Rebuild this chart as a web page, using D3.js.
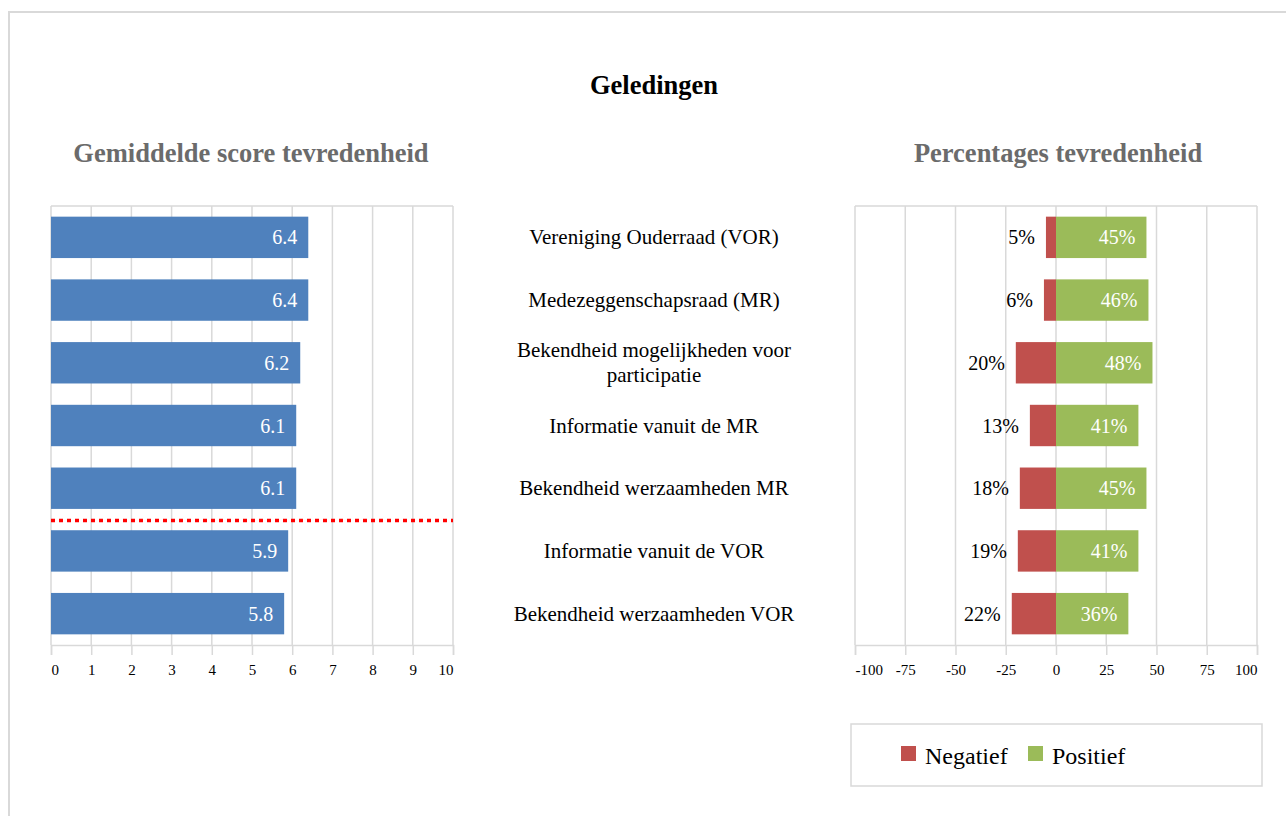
<!DOCTYPE html>
<html>
<head>
<meta charset="utf-8">
<script src="https://cdn.jsdelivr.net/npm/d3@7"></script>
<style>
  body { margin: 0; background: #fff; }
  svg { display: block; }
  text { font-family: "Liberation Serif", "Times New Roman", serif; }
</style>
</head>
<body>
<svg id="chart" width="1286" height="816"></svg>
<script>
// Categories (top to bottom)
const categories = [
  "Vereniging Ouderraad (VOR)",
  "Medezeggenschapsraad (MR)",
  "Bekendheid mogelijkheden voor|participatie",
  "Informatie vanuit de MR",
  "Bekendheid werzaamheden MR",
  "Informatie vanuit de VOR",
  "Bekendheid werzaamheden VOR"
];
// Average satisfaction score (0-10)
const scores = [6.4, 6.4, 6.2, 6.1, 6.1, 5.9, 5.8];
// Percentage dissatisfied / satisfied
const negatief = [5, 6, 20, 13, 18, 19, 22];
const positief = [45, 46, 48, 41, 45, 41, 36];
// Reference threshold drawn between rows 5 and 6
const thresholdAfter = 5;

const scoreTicks = [0, 1, 2, 3, 4, 5, 6, 7, 8, 9, 10];
const pctTicks = [-100, -75, -50, -25, 0, 25, 50, 75, 100];

const BLUE = "#4f81bd", RED = "#c0504d", GREEN = "#9bbb59", GRID = "#d9d9d9";

const svg = d3.select("#chart");

// outer frame
svg.append("rect").attr("x", 9).attr("y", 12).attr("width", 1290).attr("height", 820)
  .attr("fill", "none").attr("stroke", GRID).attr("stroke-width", 2);

// titles
svg.append("text").attr("x", 654).attr("y", 94).attr("text-anchor", "middle")
  .attr("font-size", 26.5).attr("font-weight", "bold").attr("fill", "#000").text("Geledingen");
svg.append("text").attr("x", 251).attr("y", 162).attr("text-anchor", "middle")
  .attr("font-size", 26.5).attr("font-weight", "bold").attr("fill", "#6b6b6b").text("Gemiddelde score tevredenheid");
svg.append("text").attr("x", 1058).attr("y", 162).attr("text-anchor", "middle")
  .attr("font-size", 26.5).attr("font-weight", "bold").attr("fill", "#6b6b6b").text("Percentages tevredenheid");

const plotTop = 206, plotBottom = 645;
const y = d3.scaleBand().domain(d3.range(categories.length))
  .range([plotTop, plotBottom]).paddingInner(0.34).paddingOuter(0.17);

// axis styling; the outermost tick labels are kept inside the plot width
function styleAxis(ax, ticks) {
  ax.select(".domain").attr("stroke", GRID).attr("stroke-width", 1.5);
  ax.selectAll(".tick line").attr("stroke", GRID).attr("stroke-width", 1.5);
  ax.selectAll(".tick text").attr("font-size", 15).attr("fill", "#000")
    .attr("text-anchor", d => d === ticks[0] ? "start" : d === ticks[ticks.length - 1] ? "end" : "middle");
}

// ---------- left: mean score ----------
const xL = d3.scaleLinear().domain([0, 10]).range([51, 453]);
const gL = svg.append("g");
gL.append("line").attr("x1", xL(0)).attr("x2", xL(10)).attr("y1", plotTop).attr("y2", plotTop)
  .attr("stroke", GRID).attr("stroke-width", 1.5);
gL.selectAll(".grid").data(scoreTicks).join("line")
  .attr("x1", d => xL(d)).attr("x2", d => xL(d)).attr("y1", plotTop).attr("y2", plotBottom)
  .attr("stroke", GRID).attr("stroke-width", 1.5);
const axL = gL.append("g").attr("transform", `translate(0,${plotBottom})`)
  .call(d3.axisBottom(xL).tickValues(scoreTicks).tickSize(10).tickPadding(9).tickFormat(d => String(d)));
styleAxis(axL, scoreTicks);

gL.selectAll(".bar").data(scores).join("rect")
  .attr("x", xL(0)).attr("y", (d, i) => y(i))
  .attr("width", d => xL(d) - xL(0)).attr("height", y.bandwidth()).attr("fill", BLUE);
gL.selectAll(".lbl").data(scores).join("text")
  .attr("x", d => xL(d) - 11).attr("y", (d, i) => y(i) + y.bandwidth() / 2 + 7)
  .attr("text-anchor", "end").attr("font-size", 20).attr("fill", "#fff")
  .text(d => d3.format(".1f")(d));

// threshold line
const yT = (y(thresholdAfter - 1) + y.bandwidth() + y(thresholdAfter)) / 2 + 1;
gL.append("line").attr("x1", xL(0)).attr("x2", xL(10)).attr("y1", yT).attr("y2", yT)
  .attr("stroke", "#ff0000").attr("stroke-width", 3.5).attr("stroke-dasharray", "4,4");

// ---------- middle: category labels ----------
const gM = svg.append("g");
categories.forEach((c, i) => {
  const lines = c.split("|");
  const cy = y(i) + y.bandwidth() / 2;
  const t = gM.append("text").attr("text-anchor", "middle").attr("font-size", 21).attr("fill", "#000");
  lines.forEach((ln, k) => {
    t.append("tspan").attr("x", 654)
      .attr("y", cy + 7 + (k - (lines.length - 1) / 2) * 25).text(ln);
  });
});

// ---------- right: percentages ----------
const xR = d3.scaleLinear().domain([-100, 100]).range([855, 1257]);
const gR = svg.append("g");
gR.append("line").attr("x1", xR(-100)).attr("x2", xR(100)).attr("y1", plotTop).attr("y2", plotTop)
  .attr("stroke", GRID).attr("stroke-width", 1.5);
gR.selectAll(".grid").data(pctTicks).join("line")
  .attr("x1", d => xR(d)).attr("x2", d => xR(d)).attr("y1", plotTop).attr("y2", plotBottom)
  .attr("stroke", GRID).attr("stroke-width", 1.5);
const axR = gR.append("g").attr("transform", `translate(0,${plotBottom})`)
  .call(d3.axisBottom(xR).tickValues(pctTicks).tickSize(10).tickPadding(9).tickFormat(d => String(d)));
styleAxis(axR, pctTicks);

gR.selectAll(".neg").data(negatief).join("rect")
  .attr("x", d => xR(-d)).attr("y", (d, i) => y(i))
  .attr("width", d => xR(0) - xR(-d)).attr("height", y.bandwidth()).attr("fill", RED);
gR.selectAll(".pos").data(positief).join("rect")
  .attr("x", xR(0)).attr("y", (d, i) => y(i))
  .attr("width", d => xR(d) - xR(0)).attr("height", y.bandwidth()).attr("fill", GREEN);
gR.selectAll(".negLbl").data(negatief).join("text")
  .attr("x", d => xR(-d) - 11).attr("y", (d, i) => y(i) + y.bandwidth() / 2 + 7)
  .attr("text-anchor", "end").attr("font-size", 20).attr("fill", "#000")
  .text(d => d + "%");
gR.selectAll(".posLbl").data(positief).join("text")
  .attr("x", d => xR(d) - 11).attr("y", (d, i) => y(i) + y.bandwidth() / 2 + 7)
  .attr("text-anchor", "end").attr("font-size", 20).attr("fill", "#fff")
  .text(d => d + "%");

// legend
const gLeg = svg.append("g");
gLeg.append("rect").attr("x", 851).attr("y", 724).attr("width", 411).attr("height", 62)
  .attr("fill", "#fff").attr("stroke", GRID).attr("stroke-width", 1.5);
[["Negatief", RED, 901], ["Positief", GREEN, 1028]].forEach(([name, col, lx]) => {
  gLeg.append("rect").attr("x", lx).attr("y", 746).attr("width", 15).attr("height", 15).attr("fill", col);
  gLeg.append("text").attr("x", lx + 24).attr("y", 764).attr("font-size", 24).attr("fill", "#000").text(name);
});
</script>
</body>
</html>
